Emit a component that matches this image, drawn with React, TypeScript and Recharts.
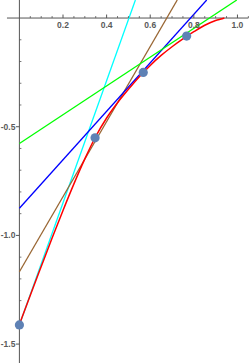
import React from 'react';
import { ComposedChart, Line, Scatter, XAxis, YAxis, ReferenceLine, ReferenceDot } from 'recharts';

// red curve
const curveX = [0, 0.05, 0.1, 0.15, 0.2, 0.25, 0.3, 0.35, 0.4, 0.45, 0.5, 0.55, 0.6, 0.65, 0.7, 0.75, 0.8, 0.85, 0.9, 0.93, 0.94];
const curveY = [-1.41, -1.275, -1.143, -1.012, -0.885, -0.763, -0.648, -0.545, -0.46, -0.39, -0.328, -0.27, -0.218, -0.172, -0.132, -0.096, -0.063, -0.033, -0.011, -0.003, 0];

// sample points
const pointX = [0, 0.347, 0.568, 0.767];
const pointY = [-1.412, -0.551, -0.25, -0.083];

// straight lines: [start, end] as read where they leave the frame
const cyanLine = [[0, -1.412], [0.532, 0.083]];
const brownLine = [[0, -1.167], [0.724, 0.083]];
const blueLine = [[0, -0.875], [0.859, 0.083]];
const greenLine = [[0, -0.577], [0.997, 0.083]];

const xMajor = [0.2, 0.4, 0.6, 0.8, 1.0];
const xMajorLabels = ['0.2', '0.4', '0.6', '0.8', '1.0'];
const xMinor = [0.05, 0.1, 0.15, 0.25, 0.3, 0.35, 0.45, 0.5, 0.55, 0.65, 0.7, 0.75, 0.85, 0.9, 0.95, 1.05];
const yMajor = [-0.5, -1.0, -1.5];
const yMajorLabels = ['-0.5', '-1.0', '-1.5'];
const yMinor = [-0.1, -0.2, -0.3, -0.4, -0.6, -0.7, -0.8, -0.9, -1.1, -1.2, -1.3, -1.4];

const toRows = (pts: number[][]) => pts.map(([x, y]) => ({ x, y }));
const curveData = curveX.map((x, i) => ({ x, y: curveY[i] }));
const pointData = pointX.map((x, i) => ({ x, y: pointY[i] }));

const AXIS = '#555';
const LABEL = '#5a5a5a';
const FONT = '"Liberation Sans", Arial, sans-serif';

const lineProps = { type: 'linear' as const, strokeWidth: 1.3, dot: false, activeDot: false, isAnimationActive: false };

export default function App() {
  return (
    <div style={{ position: 'absolute', left: 0, top: 0 }}>
      <ComposedChart width={249} height={363} margin={{ top: 0, right: 0, left: 0, bottom: 0 }}>
        <XAxis type="number" dataKey="x" domain={[-0.089, 1.053]} allowDataOverflow hide />
        <YAxis type="number" dataKey="y" domain={[-1.587, 0.083]} allowDataOverflow hide />

        <ReferenceLine segment={[{ x: -0.057, y: 0 }, { x: 1.05, y: 0 }]} stroke={AXIS} strokeWidth={1} />
        <ReferenceLine x={0} stroke={AXIS} strokeWidth={1} />

        {xMinor.map((v) => (
          <ReferenceDot key={'xm' + v} x={v} y={0} shape={(p: any) => (
            <line x1={p.cx} x2={p.cx} y1={p.cy} y2={p.cy - 2} stroke={AXIS} strokeWidth={0.8} />
          )} />
        ))}
        {xMajor.map((v, i) => (
          <ReferenceDot key={'xM' + v} x={v} y={0} shape={(p: any) => (
            <g>
              <line x1={p.cx} x2={p.cx} y1={p.cy} y2={p.cy - 3.5} stroke={AXIS} strokeWidth={1} />
              <text x={p.cx} y={p.cy + 10} textAnchor="middle" fontSize={8.5} fontWeight="bold" fontFamily={FONT} fill={LABEL}>
                {xMajorLabels[i]}
              </text>
            </g>
          )} />
        ))}
        {yMinor.map((v) => (
          <ReferenceDot key={'ym' + v} x={0} y={v} shape={(p: any) => (
            <line x1={p.cx} x2={p.cx + 2} y1={p.cy} y2={p.cy} stroke={AXIS} strokeWidth={0.8} />
          )} />
        ))}
        {yMajor.map((v, i) => (
          <ReferenceDot key={'yM' + v} x={0} y={v} shape={(p: any) => (
            <g>
              <line x1={p.cx - 3.5} x2={p.cx} y1={p.cy} y2={p.cy} stroke={AXIS} strokeWidth={1} />
              <text x={p.cx - 4} y={p.cy + 3} textAnchor="end" fontSize={8.5} fontWeight="bold" fontFamily={FONT} fill={LABEL}>
                {yMajorLabels[i]}
              </text>
            </g>
          )} />
        ))}

        <Line data={toRows(cyanLine)} dataKey="y" stroke="#00FFFF" {...lineProps} />
        <Line data={toRows(brownLine)} dataKey="y" stroke="#996633" {...lineProps} />
        <Line data={toRows(blueLine)} dataKey="y" stroke="#0000FF" {...lineProps} />
        <Line data={toRows(greenLine)} dataKey="y" stroke="#00FF00" {...lineProps} />
        <Line data={curveData} dataKey="y" type="monotone" stroke="#FF0000" strokeWidth={1.5} dot={false} activeDot={false} isAnimationActive={false} />
        <Scatter data={pointData} dataKey="y" fill="#5E81B5" isAnimationActive={false}
          shape={(p: any) => <circle cx={p.cx} cy={p.cy} r={4.6} fill="#5E81B5" />} />
      </ComposedChart>
    </div>
  );
}
